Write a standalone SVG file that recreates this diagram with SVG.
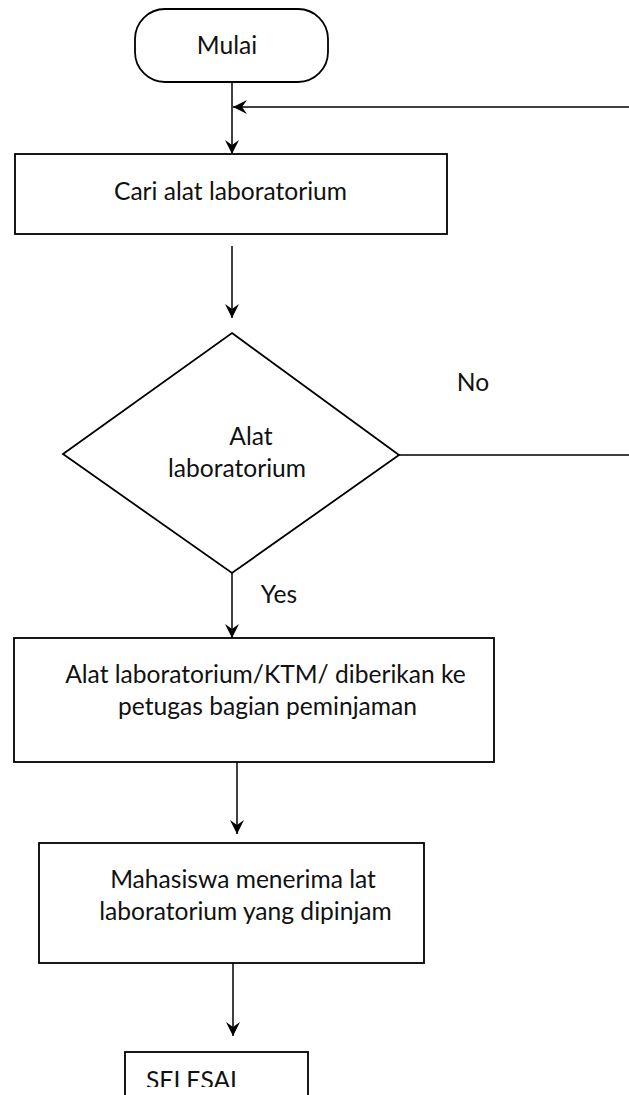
<svg xmlns="http://www.w3.org/2000/svg" width="629" height="1095" viewBox="0 0 629 1095">
<style>
.shape{fill:#fff;stroke:#000;stroke-width:1.8}
.conn{fill:none;stroke:#000;stroke-width:1.5}
text{font-family:Lato,"Liberation Sans",sans-serif;font-size:24.6px;fill:#111}
.c{text-anchor:middle}
</style>
<defs>
<marker id="ah" viewBox="-15 -8 16 16" markerWidth="16" markerHeight="16" refX="0" refY="0" orient="auto" markerUnits="userSpaceOnUse">
<path d="M0,0 L-14,-7 L-9,0 L-14,7 Z" fill="#000"/>
</marker>
<clipPath id="clipSel"><rect x="0" y="0" width="629" height="1087"/></clipPath>
</defs>
<rect width="629" height="1095" fill="#fff"/>
<g id="connectors">
<line class="conn" x1="232" y1="82" x2="232" y2="154" marker-end="url(#ah)"/>
<line class="conn" x1="629" y1="107" x2="233" y2="107" marker-end="url(#ah)"/>
<line class="conn" x1="232" y1="246" x2="232" y2="318" marker-end="url(#ah)"/>
<line class="conn" x1="399" y1="455" x2="629" y2="455"/>
<line class="conn" x1="232" y1="573" x2="232" y2="638" marker-end="url(#ah)"/>
<line class="conn" x1="237" y1="762" x2="237" y2="834" marker-end="url(#ah)"/>
<line class="conn" x1="233" y1="963" x2="233" y2="1036" marker-end="url(#ah)"/>
</g>
<g id="mulai">
<rect class="shape" x="135" y="9" width="193" height="73" rx="30" ry="30"/>
<text class="c" x="227" y="54">Mulai</text>
</g>
<g id="cari">
<rect class="shape" x="15" y="154" width="432" height="80"/>
<text class="c" x="230.5" y="200">Cari alat laboratorium</text>
</g>
<g id="decision">
<polygon class="shape" points="232,333 399,455 232,573 63,454"/>
<text class="c" x="251" y="445">Alat</text>
<text class="c" x="237" y="477">laboratorium</text>
</g>
<g id="labels">
<text class="c" x="473" y="391">No</text>
<text class="c" x="279" y="603">Yes</text>
</g>
<g id="serah">
<rect class="shape" x="14" y="638" width="480" height="124"/>
<text class="c" x="265.5" y="683">Alat laboratorium/KTM/ diberikan ke</text>
<text class="c" x="267.5" y="715">petugas bagian peminjaman</text>
</g>
<g id="terima">
<rect class="shape" x="39" y="843" width="385" height="120"/>
<text class="c" x="243" y="888">Mahasiswa menerima lat</text>
<text class="c" x="245.5" y="920">laboratorium yang dipinjam</text>
</g>
<g id="selesai">
<rect class="shape" x="125" y="1052" width="183" height="60" stroke-width="1.3"/>
<text x="146" y="1089" clip-path="url(#clipSel)">SELESAI</text>
</g>
</svg>
